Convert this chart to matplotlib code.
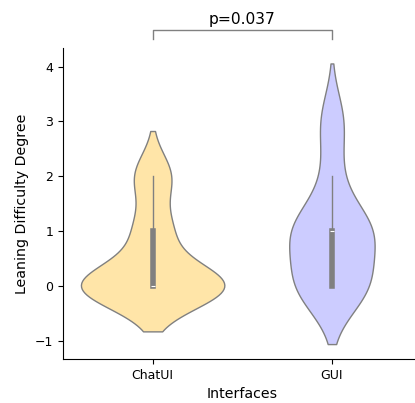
import matplotlib
matplotlib.use("Agg")
import matplotlib.pyplot as plt
import seaborn as sns
import pandas as pd

# Leaning difficulty scores per participant
chatui_scores = [0, 0, 0, 0, 0, 0, 0, 0, 0, 0, 0, 0, 0, 0, 0, 0,
                 1, 1, 1, 1, 2, 2, 2, 2]
gui_scores = [0, 0, 0, 0, 0, 0, 0, 0, 0,
              1, 1, 1, 1, 1, 1, 1, 1, 1, 1, 2, 2, 3, 3, 3]
interfaces = ["ChatUI", "GUI"]
colors = ["#FFE5A8", "#CCCCFF"]
p_text = "p=0.037"

df = pd.DataFrame({
    "Interfaces": [interfaces[0]] * len(chatui_scores) + [interfaces[1]] * len(gui_scores),
    "score": chatui_scores + gui_scores,
})

fig = plt.figure(figsize=(4.15, 4.03), dpi=100)
ax = fig.add_axes([0.1518, 0.1092, 0.864, 0.7717])

# one width scale shared by both violins
sns.violinplot(data=df, x="Interfaces", y="score", hue="Interfaces",
               order=interfaces, palette=colors, saturation=1, legend=False,
               density_norm="area", common_norm=True,
               linecolor="#808080", linewidth=1, inner="box",
               inner_kws=dict(box_width=4, whis_width=1, color="#808080"),
               ax=ax)

ax.set_ylim(-1.33, 4.34)
ax.set_xlim(-0.5, 1.5)
ax.set_xlabel("Interfaces", fontsize=10.2)
ax.set_ylabel("Leaning Difficulty Degree", fontsize=10.2)
ax.tick_params(labelsize=9)
ax.spines["top"].set_visible(False)
ax.spines["right"].set_visible(False)

# significance bracket
ax.plot([0, 0, 1, 1], [4.51, 4.67, 4.67, 4.51], color="#808080", lw=1, clip_on=False)
ax.text(0.5, 4.72, p_text, ha="center", va="bottom", fontsize=11.2)

fig.savefig("out.png", dpi=100)
